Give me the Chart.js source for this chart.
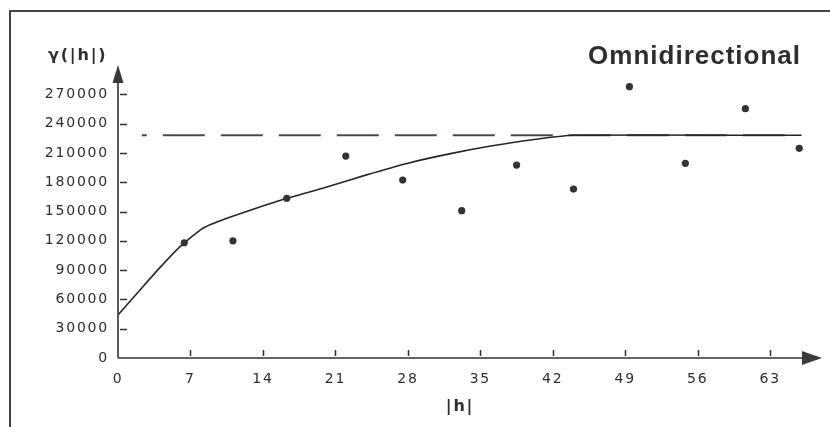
<!DOCTYPE html>
<html>
<head>
  <title>Variograma - Omnidirectional</title>
  <script src="https://cdn.jsdelivr.net/npm/chart.js@4.4.1/dist/chart.umd.min.js"></script>
  <style>
    html, body { margin: 0; padding: 0; background: #fff; }
    #wrap { width: 830px; height: 427px; }
  </style>
</head>
<body>
  <div id="wrap"><canvas id="variogramChart" width="830" height="427"></canvas></div>

  <script>
    // Variograma experimental: distancia |h| y semivarianza
    const lagH = [6.4, 11.1, 16.3, 22.0, 27.5, 33.2, 38.5, 44.0, 49.4, 54.8, 60.6, 65.8];
    const gammaH = [118000, 120000, 163500, 206800, 182200, 150800, 197500, 173000, 277800, 199300, 255300, 214700];

    // Modelo ajustado
    const modelH = [0, 2, 4, 6, 8, 9, 10, 12, 16, 20, 24, 28, 32, 36, 40, 44, 66];
    const modelGamma = [44000, 68000, 92000, 114000, 131500, 137000, 141000, 148500, 162500, 174500, 187500, 199500, 209000, 217000, 223500, 228000, 228000];

    // Meseta (sill)
    const sillH = [2.3, 66];
    const sillGamma = [228000, 228000];

    // Marcas de los ejes
    const xTicks = [0, 7, 14, 21, 28, 35, 42, 49, 56, 63];
    const yTicks = [0, 30000, 60000, 90000, 120000, 150000, 180000, 210000, 240000, 270000];

    const toPoints = (xs, ys) => xs.map((x, i) => ({ x: x, y: ys[i] }));

    const textColor = '#2e2e2e';
    const axisColor = '#333';

    // Ejes con flechas, marcas hacia dentro, marco y rótulos
    const axisDecor = {
      id: 'axisDecor',
      beforeDraw(chart) {
        chart.ctx.letterSpacing = '1.8px';
      },
      afterDraw(chart) {
        const ctx = chart.ctx;
        const xs = chart.scales.x;
        const ys = chart.scales.y;
        const x0 = xs.getPixelForValue(0);
        const y0 = ys.getPixelForValue(0);
        const xEnd = xs.getPixelForValue(xs.max);
        const yEnd = ys.getPixelForValue(ys.max);

        ctx.save();
        ctx.letterSpacing = '0px';

        // marco
        ctx.strokeStyle = '#444';
        ctx.lineWidth = 2;
        ctx.strokeRect(10, 11, 840, 440);

        // líneas de los ejes
        ctx.strokeStyle = axisColor;
        ctx.lineWidth = 1.6;
        ctx.beginPath();
        ctx.moveTo(x0, y0);
        ctx.lineTo(x0, yEnd + 10);
        ctx.moveTo(x0, y0);
        ctx.lineTo(xEnd - 10, y0);
        ctx.stroke();

        // flechas
        ctx.fillStyle = '#3a3a3a';
        ctx.beginPath();
        ctx.moveTo(x0, yEnd);
        ctx.lineTo(x0 - 5.5, yEnd + 18);
        ctx.lineTo(x0 + 5.5, yEnd + 18);
        ctx.closePath();
        ctx.fill();
        ctx.beginPath();
        ctx.moveTo(xEnd, y0);
        ctx.lineTo(xEnd - 20, y0 - 7);
        ctx.lineTo(xEnd - 20, y0 + 7);
        ctx.closePath();
        ctx.fill();

        // marcas hacia dentro
        ctx.lineWidth = 1.5;
        ctx.beginPath();
        yTicks.forEach(v => {
          if (v === 0) return;
          const py = Math.round(ys.getPixelForValue(v)) + 0.5;
          ctx.moveTo(x0 + 2, py);
          ctx.lineTo(x0 + 9, py);
        });
        xTicks.forEach(v => {
          if (v === 0) return;
          const px = Math.round(xs.getPixelForValue(v)) + 0.5;
          ctx.moveTo(px, y0 - 2);
          ctx.lineTo(px, y0 - 8);
        });
        ctx.stroke();

        // rótulos
        ctx.fillStyle = textColor;
        ctx.textBaseline = 'alphabetic';
        ctx.font = 'bold 16px "DejaVu Sans"';
        ctx.letterSpacing = '1.8px';
        ctx.textAlign = 'left';
        ctx.fillText('γ(|h|)', 48, 60);
        ctx.textAlign = 'center';
        ctx.fillText('|h|', 460, 411);

        ctx.font = 'bold 26px "Liberation Sans"';
        ctx.letterSpacing = '1px';
        ctx.textAlign = 'right';
        ctx.fillText('Omnidirectional', 801, 64);

        ctx.restore();
        ctx.letterSpacing = '0px';
      }
    };

    const tickFont = { family: 'DejaVu Sans', size: 14 };

    const variogramChart = new Chart(document.getElementById('variogramChart'), {
      type: 'scatter',
      data: {
        datasets: [
          {
            label: 'Experimental',
            data: toPoints(lagH, gammaH),
            backgroundColor: '#333',
            borderWidth: 0,
            pointRadius: 3.6,
            showLine: false
          },
          {
            label: 'Modelo',
            data: toPoints(modelH, modelGamma),
            showLine: true,
            borderColor: '#262626',
            borderWidth: 1.6,
            pointRadius: 0,
            tension: 0.2
          },
          {
            label: 'Meseta',
            data: toPoints(sillH, sillGamma),
            showLine: true,
            borderColor: '#3f4c58',
            borderWidth: 2,
            borderDash: [42, 16],
            borderDashOffset: 37,
            pointRadius: 0
          }
        ]
      },
      options: {
        responsive: false,
        animation: false,
        layout: { padding: { left: 0, right: 8, top: 65, bottom: 0 } },
        plugins: {
          legend: { display: false },
          tooltip: { enabled: false }
        },
        scales: {
          x: {
            type: 'linear',
            min: 0,
            max: 68,
            grid: { display: false, drawTicks: false },
            border: { display: false },
            afterBuildTicks: s => { s.ticks = xTicks.map(v => ({ value: v })); },
            afterFit: s => { s.height = 69; },
            ticks: {
              font: tickFont,
              color: textColor,
              padding: 13,
              maxRotation: 0,
              autoSkip: false,
              callback: v => String(v)
            }
          },
          y: {
            min: 0,
            max: 300000,
            grid: { display: false, drawTicks: false },
            border: { display: false },
            afterBuildTicks: s => { s.ticks = yTicks.map(v => ({ value: v })); },
            afterFit: s => { s.width = 118; },
            ticks: {
              font: tickFont,
              color: textColor,
              padding: 9,
              autoSkip: false,
              callback: v => String(v)
            }
          }
        }
      },
      plugins: [axisDecor]
    });
  </script>
</body>
</html>
